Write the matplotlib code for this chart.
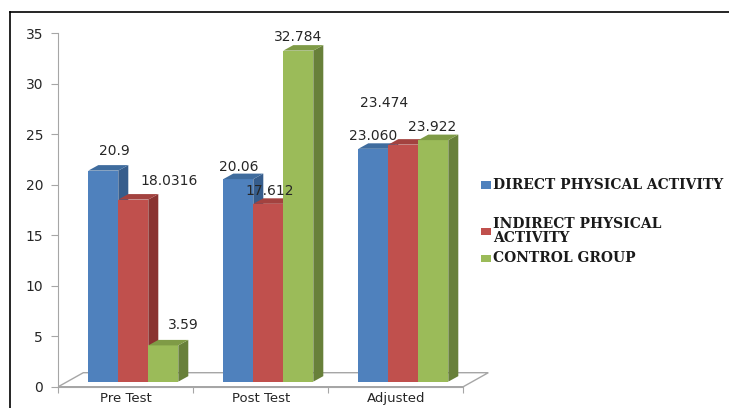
import matplotlib.pyplot as plt
from matplotlib.patches import Polygon, Rectangle
from matplotlib.lines import Line2D

categories = ["Pre Test", "Post Test", "Adjusted"]
series_names = ["DIRECT PHYSICAL ACTIVITY", "INDIRECT PHYSICAL\nACTIVITY", "CONTROL GROUP"]
direct = [20.9, 20.06, 23.060]
indirect = [18.0316, 17.612, 23.474]
control = [3.59, 32.784, 23.922]
value_labels = [
    ["20.9", "20.06", "23.060"],
    ["18.0316", "17.612", "23.474"],
    ["3.59", "32.784", "23.922"],
]
yticks = [0, 5, 10, 15, 20, 25, 30, 35]

series = [direct, indirect, control]
# front, side, top shades for each series
shades = [
    ("#4F81BD", "#365D8C", "#3F6C9E"),
    ("#C0504D", "#8A3331", "#A3423F"),
    ("#9BBB59", "#68803A", "#7F9B46"),
]
# where each value label sits relative to its bar top (pixels)
label_offsets = [
    [(11, 20), (0, 12), (0, 13)],
    [(36, 19), (1, 13), (-19, 42)],
    [(20, 20), (0, 14), (-1, 13)],
]

W, H = 729, 408
fig = plt.figure(figsize=(W / 100, H / 100), dpi=100)
ax = fig.add_axes([58.3 / W, (H - 386.7) / H, 405 / W, 353.4 / H])
ax.set_xlim(0, 3)
ax.set_ylim(0, 35)

px_x = 405 / 3
px_y = 353.4 / 35
bar_w = 30 / px_x
gap = 30 / px_x
dx, dy = 10 / px_x, 5.5 / px_y
base = 0.5
floor_dx, floor_dy = 25 / px_x, 14 / px_y

floor = Polygon([(0, 0), (3, 0), (3 + floor_dx, floor_dy), (floor_dx, floor_dy)],
                closed=True, facecolor="none", edgecolor="#A6A6A6", lw=1.0,
                clip_on=False, zorder=1)
ax.add_patch(floor)

for s, vals in enumerate(series):
    front, side, top = shades[s]
    for c, v in enumerate(vals):
        x0 = c + gap + s * bar_w
        y1 = base + v
        ax.add_patch(Rectangle((x0, base), bar_w, v, facecolor=front,
                               edgecolor="none", zorder=2 + s, clip_on=False))
        ax.add_patch(Polygon([(x0 + bar_w, base), (x0 + bar_w + dx, base + dy),
                              (x0 + bar_w + dx, y1 + dy), (x0 + bar_w, y1)],
                             facecolor=side, edgecolor="none", zorder=2 + s, clip_on=False))
        ax.add_patch(Polygon([(x0, y1), (x0 + bar_w, y1), (x0 + bar_w + dx, y1 + dy),
                              (x0 + dx, y1 + dy)],
                             facecolor=top, edgecolor="none", zorder=2 + s, clip_on=False))
        ox, oy = label_offsets[s][c]
        ax.annotate(value_labels[s][c], (x0 + bar_w / 2, y1), xytext=(ox, oy),
                    textcoords="offset pixels", ha="center", va="center",
                    fontsize=10, color="#262626", zorder=10)

for sp in ["top", "right"]:
    ax.spines[sp].set_visible(False)
for sp in ["left", "bottom"]:
    ax.spines[sp].set_color("#A6A6A6")
ax.set_yticks(yticks)
ax.tick_params(axis="y", length=5, pad=6, color="#A6A6A6", labelsize=10, labelcolor="#262626")
ax.set_xticks([0, 1, 2, 3])
ax.set_xticklabels([])
ax.set_xticks([0.5, 1.5, 2.5], minor=True)
ax.set_xticklabels(categories, minor=True)
ax.tick_params(axis="x", which="major", length=4, color="#A6A6A6")
ax.tick_params(axis="x", which="minor", length=0, pad=4, labelsize=9.5, labelcolor="#262626")

# legend
leg_rows = [185, 231.5, 258]
for s, name in enumerate(series_names):
    yc = leg_rows[s]
    fig.add_artist(Rectangle((481 / W, (H - yc - 3.5) / H), 10 / W, 7 / H,
                             transform=fig.transFigure, facecolor=shades[s][0],
                             edgecolor="none"))
    fig.text(493 / W, (H - yc) / H, name, ha="left", va="center",
             family="DejaVu Serif", weight="bold", fontsize=10,
             color="#1A1A1A", linespacing=1.0)

# outer frame
fig.add_artist(Line2D([10 / W, 1], [(H - 12) / H] * 2, color="black", lw=1.2,
                      transform=fig.transFigure))
fig.add_artist(Line2D([10 / W] * 2, [0, (H - 12) / H], color="black", lw=1.2,
                      transform=fig.transFigure))

fig.savefig("out.png", dpi=100)
